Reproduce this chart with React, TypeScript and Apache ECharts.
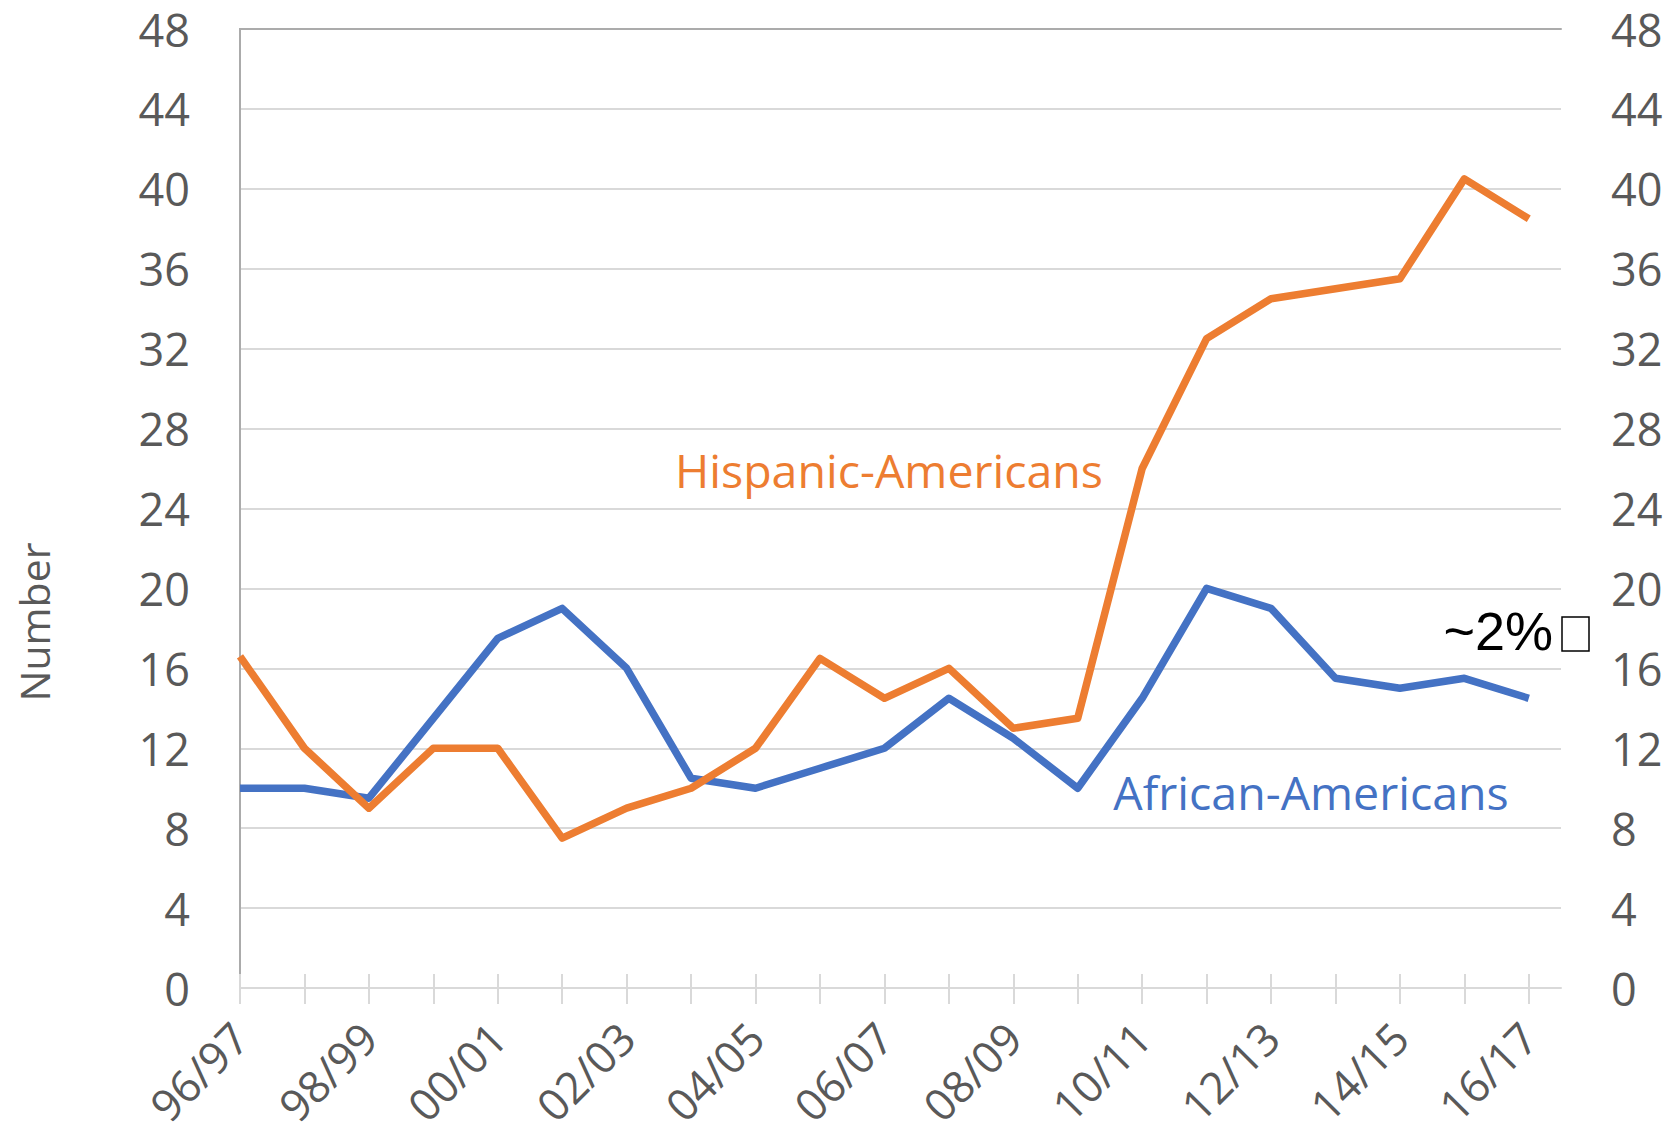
import React, { useEffect, useRef } from "react";
import * as echarts from "echarts";

const categories = [
  "96/97", "97/98", "98/99", "99/00", "00/01", "01/02", "02/03", "03/04", "04/05", "05/06",
  "06/07", "07/08", "08/09", "09/10", "10/11", "11/12", "12/13", "13/14", "14/15", "15/16", "16/17",
];
const africanAmericans = [10, 10, 9.5, 13.5, 17.5, 19, 16, 10.5, 10, 11, 12, 14.5, 12.5, 10, 14.5, 20, 19, 15.5, 15, 15.5, 14.5];
const hispanicAmericans = [16.6, 12, 9, 12, 12, 7.5, 9, 10, 12, 16.5, 14.5, 16, 13, 13.5, 26, 32.5, 34.5, 35, 35.5, 40.5, 38.5];
const yTicks = { min: 0, max: 48, interval: 4 };

const FONT = "'Open Sans', 'Noto Sans', sans-serif";
const GREY_TEXT = "#595959";
const ORANGE = "#ED7D31";
const BLUE = "#4472C4";
const FRAME = "#ABABAB";
const GRID = "#D9D9D9";

export default function App() {
  const ref = useRef<HTMLDivElement>(null);
  useEffect(() => {
    if (!ref.current) return;
    const chart = echarts.init(ref.current, undefined, { renderer: "svg" });
    const idx = categories.map((_, i) => i);
    const labelIdx = idx.filter((i) => i % 2 === 0);
    const xMax = categories.length - 0.5;
    const baseX = {
      type: "value" as const,
      min: 0,
      max: xMax,
      interval: 1,
      splitLine: { show: false },
    };
    chart.setOption({
      animation: false,
      backgroundColor: "#ffffff",
      grid: { left: 240, right: 116, top: 29, bottom: 145 },
      xAxis: [
        {
          ...baseX,
          position: "bottom",
          axisLine: { show: true, onZero: false, lineStyle: { color: GRID, width: 2 } },
          axisTick: { show: true, length: 16, customValues: idx, lineStyle: { color: GRID, width: 2 } },
          axisLabel: {
            show: true,
            customValues: labelIdx,
            formatter: (v: number) => categories[Math.round(v)] ?? "",
            rotate: 45,
            margin: 42,
            fontSize: 44,
            fontFamily: FONT,
            color: GREY_TEXT,
          },
        },
        {
          ...baseX,
          position: "bottom",
          axisLine: { show: false, onZero: false },
          axisTick: { show: true, inside: true, length: 14, customValues: idx, lineStyle: { color: GRID, width: 2 } },
          axisLabel: { show: false },
        },
        {
          ...baseX,
          position: "top",
          axisLine: { show: true, onZero: false, lineStyle: { color: FRAME, width: 2 } },
          axisTick: { show: false },
          axisLabel: { show: false },
        },
      ],
      yAxis: [
        {
          type: "value",
          position: "left",
          ...yTicks,
          axisLine: { show: true, lineStyle: { color: FRAME, width: 2 } },
          axisTick: { show: false },
          splitLine: { show: true, lineStyle: { color: GRID, width: 2 } },
          axisLabel: { margin: 50, fontSize: 45, fontFamily: FONT, color: GREY_TEXT },
        },
        {
          type: "value",
          position: "right",
          ...yTicks,
          axisLine: { show: true, lineStyle: { color: FRAME, width: 2 } },
          axisTick: { show: false },
          splitLine: { show: false },
          axisLabel: { margin: 50, fontSize: 45, fontFamily: FONT, color: GREY_TEXT },
        },
      ],
      series: [
        {
          name: "African-Americans",
          type: "line",
          data: africanAmericans.map((v, i) => [i, v]),
          showSymbol: false,
          lineStyle: { color: BLUE, width: 7.5, join: "round" },
          itemStyle: { color: BLUE },
          z: 3,
        },
        {
          name: "Hispanic-Americans",
          type: "line",
          data: hispanicAmericans.map((v, i) => [i, v]),
          showSymbol: false,
          lineStyle: { color: ORANGE, width: 7.5, join: "round" },
          itemStyle: { color: ORANGE },
          z: 4,
        },
      ],
      graphic: [
        {
          type: "text",
          x: 34,
          y: 622,
          rotation: Math.PI / 2,
          style: {
            text: "Number",
            fontSize: 41,
            fontFamily: FONT,
            fill: GREY_TEXT,
            textAlign: "center",
            textVerticalAlign: "middle",
          },
        },
        {
          type: "text",
          x: 889,
          y: 470,
          style: {
            text: "Hispanic-Americans",
            fontSize: 46.5,
            fontFamily: FONT,
            fill: ORANGE,
            textAlign: "center",
            textVerticalAlign: "middle",
          },
        },
        {
          type: "text",
          x: 1311,
          y: 792,
          style: {
            text: "African-Americans",
            fontSize: 46.5,
            fontFamily: FONT,
            fill: BLUE,
            textAlign: "center",
            textVerticalAlign: "middle",
          },
        },
        {
          type: "text",
          x: 1553,
          y: 631,
          style: {
            text: "~2%",
            fontSize: 54,
            fontFamily: "'Liberation Sans', Arial, sans-serif",
            fill: "#000000",
            textAlign: "right",
            textVerticalAlign: "middle",
          },
        },
        {
          type: "rect",
          shape: { x: 1562, y: 617, width: 27, height: 34 },
          style: { fill: "none", stroke: "#000000", lineWidth: 1.5 },
        },
      ],
    });
    return () => chart.dispose();
  }, []);
  return (
    <div
      ref={ref}
      style={{ position: "fixed", left: 0, top: 0, width: "1677px", height: "1133px", background: "#fff" }}
    />
  );
}
